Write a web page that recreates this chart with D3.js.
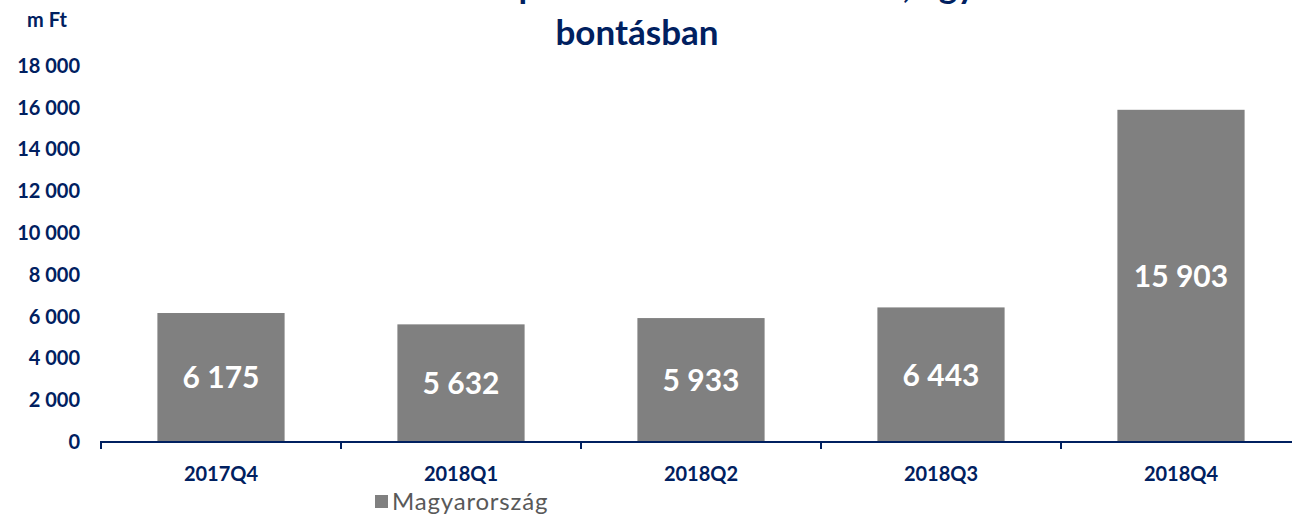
<!DOCTYPE html>
<html>
<head>
<meta charset="utf-8">
<script src="https://cdn.jsdelivr.net/npm/d3@7"></script>
<style>
    body { margin: 0; background: #fff; }
    svg { display: block; }
    .genText { font-family: Lato, "Open Sans", sans-serif; }
</style>
</head>
<body>
<div id="chart-area"></div>
<script>
// chart data
let categories = ["2017Q4", "2018Q1", "2018Q2", "2018Q3", "2018Q4"];
let values = [6175, 5632, 5933, 6443, 15903];
let yTicks = [0, 2000, 4000, 6000, 8000, 10000, 12000, 14000, 16000, 18000];
let seriesName = "Magyarország";
let unitLabel = "m Ft";
let titleLines = ["Az MNB-hez beérkezett panaszok száma havonta, ügyfél szerinti", "bontásban"];

let navy = "#002060";
let barColor = "#808080";

let width = 1292, height = 514;

let svg = d3.select("#chart-area").append("svg")
    .attr("width", width)
    .attr("height", height);

// hungarian style numbers: space as thousands separator
let huLocale = d3.formatLocale({decimal: ",", thousands: "\u00a0", grouping: [3], currency: ["", " Ft"]});
let fmt = huLocale.format(",d");

let x = d3.scaleBand()
    .domain(categories)
    .range([101, 1301])
    .paddingInner(0.47)
    .paddingOuter(0.235);

let y = d3.scaleLinear()
    .domain([0, 18000])
    .range([442, 66]);

// title (first line runs off the top of the picture, like the original)
svg.append("g")
    .attr("class", "title genText")
    .selectAll("text")
    .data(titleLines)
    .enter().append("text")
    .attr("x", 637)
    .attr("y", (d, i) => -2 + i * 47)
    .attr("text-anchor", "middle")
    .attr("font-size", "35px")
    .attr("font-weight", "bold")
    .attr("fill", navy)
    .text(d => d);

// unit label
svg.append("text")
    .attr("class", "genText")
    .attr("x", 47)
    .attr("y", 27)
    .attr("text-anchor", "middle")
    .attr("font-size", "20px")
    .attr("font-weight", "bold")
    .attr("fill", navy)
    .text(unitLabel);

// y axis (labels only)
let yAxis = d3.axisLeft(y)
    .tickValues(yTicks)
    .tickSize(0)
    .tickPadding(0)
    .tickFormat(fmt);

let yAxisGroup = svg.append("g")
    .attr("class", "axis genText")
    .attr("transform", "translate(80,0)")
    .call(yAxis);
yAxisGroup.select(".domain").remove();
yAxisGroup.selectAll("text")
    .attr("font-family", "Lato, 'Open Sans', sans-serif")
    .attr("font-size", "20px")
    .attr("font-weight", "bold")
    .attr("fill", navy);

// bars
svg.selectAll(".bar")
    .data(values)
    .enter().append("rect")
    .attr("class", "bar")
    .attr("x", (d, i) => x(categories[i]))
    .attr("y", d => y(d))
    .attr("width", x.bandwidth())
    .attr("height", d => y(0) - y(d))
    .attr("fill", barColor);

// value labels in the middle of the bars
svg.selectAll(".bar-label")
    .data(values)
    .enter().append("text")
    .attr("class", "bar-label genText")
    .attr("x", (d, i) => x(categories[i]) + x.bandwidth() / 2)
    .attr("y", d => (y(d) + y(0)) / 2)
    .attr("dy", "0.36em")
    .attr("text-anchor", "middle")
    .attr("font-size", "30px")
    .attr("font-weight", "bold")
    .attr("fill", "#fff")
    .text(d => fmt(d));

// x axis
let xAxis = d3.axisBottom(x)
    .tickSize(0)
    .tickPadding(25);

let xAxisGroup = svg.append("g")
    .attr("class", "axis genText")
    .attr("transform", `translate(0, ${y(0)})`)
    .call(xAxis);
xAxisGroup.select(".domain")
    .attr("stroke", navy)
    .attr("stroke-width", 2)
    .attr("d", `M${x.range()[0]},7V0H${x.range()[1]}`);
xAxisGroup.selectAll("text")
    .attr("font-family", "Lato, 'Open Sans', sans-serif")
    .attr("font-size", "20px")
    .attr("font-weight", "bold")
    .attr("fill", navy);

// category boundary ticks
let edges = categories.map(c => x(c) - (x.step() - x.bandwidth()) / 2);
xAxisGroup.selectAll(".edge")
    .data(edges.slice(1))
    .enter().append("line")
    .attr("class", "edge")
    .attr("x1", d => d)
    .attr("x2", d => d)
    .attr("y1", 0)
    .attr("y2", 7)
    .attr("stroke", navy)
    .attr("stroke-width", 2);

// legend
let legend = svg.append("g")
    .attr("class", "legend genText")
    .attr("transform", "translate(375, 495)");
legend.append("rect")
    .attr("width", 13)
    .attr("height", 13)
    .attr("fill", barColor);
legend.append("text")
    .attr("x", 17)
    .attr("y", 15)
    .attr("font-size", "24px")
    .attr("letter-spacing", "0.8px")
    .attr("fill", "#595959")
    .text(seriesName);
</script>
</body>
</html>
